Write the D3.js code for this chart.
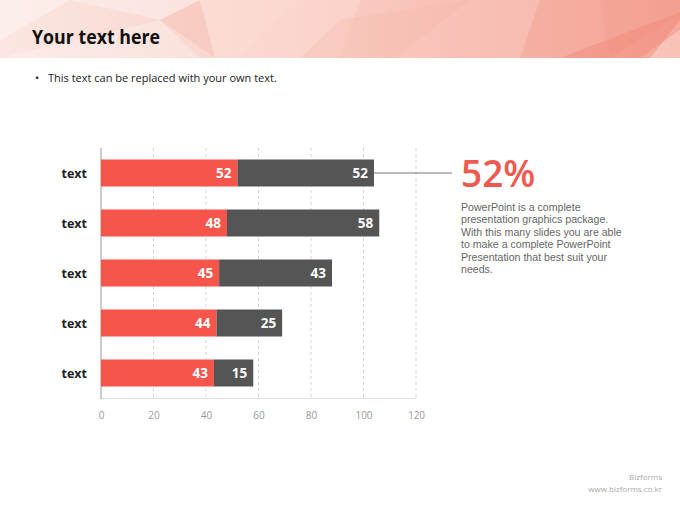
<!DOCTYPE html>
<html>
<head>
<meta charset="utf-8">
<script src="https://cdn.jsdelivr.net/npm/d3@7"></script>
<style>
html,body{margin:0;padding:0;background:#fff;}
svg{display:block;font-family:"Open Sans","Noto Sans",sans-serif;}
</style>
</head>
<body>
<svg id="c" width="680" height="510"></svg>
<script>
const categories = ["text","text","text","text","text"];
const seriesA = [52,48,45,44,43];
const seriesB = [52,58,43,25,15];
const xTicks = [0,20,40,60,80,100,120];
const bigValue = "52%";
const paragraph = ["PowerPoint is a complete","presentation graphics package.","With this many slides you are able","to make a complete PowerPoint","Presentation that best suit your","needs."];

const svg = d3.select("#c");
const defs = svg.append("defs");
const g1 = defs.append("linearGradient").attr("id","hdr").attr("x1","0").attr("x2","1").attr("y1","0").attr("y2","0");
g1.append("stop").attr("offset","0").attr("stop-color","#fbe6e1");
g1.append("stop").attr("offset","0.45").attr("stop-color","#f9d0c7");
g1.append("stop").attr("offset","1").attr("stop-color","#f5a597");

// header
const H = 58;
svg.append("rect").attr("x",0).attr("y",0).attr("width",680).attr("height",H).attr("fill","url(#hdr)");
const polys = [
  {p:[[0,0],[70,0],[0,40]], c:"#fff", o:0.35},
  {p:[[0,58],[160,20],[200,58]], c:"#fff", o:0.25},
  {p:[[70,0],[200,0],[160,20]], c:"#fff", o:0.3},
  {p:[[160,20],[200,0],[215,58]], c:"#f4b4a8", o:0.35},
  {p:[[200,0],[300,0],[240,58],[215,58]], c:"#fbe0da", o:0.5},
  {p:[[300,0],[360,0],[340,58],[240,58]], c:"#fcdcd5", o:0.45},
  {p:[[340,20],[470,0],[395,58],[300,58]], c:"#f7b9ad", o:0.35},
  {p:[[470,0],[540,0],[520,58],[395,58]], c:"#f9c6bc", o:0.4},
  {p:[[540,0],[600,0],[610,58],[520,58]], c:"#f4a496", o:0.35},
  {p:[[600,0],[680,0],[680,15],[610,58]], c:"#f29686", o:0.35},
  {p:[[650,58],[680,20],[680,58]], c:"#fbd5cd", o:0.6},
  {p:[[560,58],[680,12],[680,30],[640,58]], c:"#f07f6f", o:0.35}
];
svg.append("g").selectAll("polygon").data(polys).join("polygon")
  .attr("points",d=>d.p.map(q=>q.join(",")).join(" "))
  .attr("fill",d=>d.c).attr("opacity",d=>d.o);

svg.append("text").attr("x",32).attr("y",44).attr("font-size",20).attr("font-weight","bold")
  .attr("textLength",128).attr("lengthAdjust","spacingAndGlyphs")
  .attr("fill","#111").text("Your text here");

svg.append("text").attr("x",35).attr("y",82).attr("font-size",11).attr("fill","#222").text("•");
svg.append("text").attr("x",48).attr("y",82).attr("font-size",11).attr("fill","#222").text("This text can be replaced with your own text.");

// chart
const x = d3.scaleLinear().domain([0,120]).range([101,416]);
const y = d3.scaleBand().domain(d3.range(categories.length)).range([148,398]).paddingInner(0.46).paddingOuter(0.23);

const gridG = svg.append("g");
gridG.selectAll("line").data(xTicks.filter(t=>t>0)).join("line")
  .attr("x1",d=>x(d)).attr("x2",d=>x(d)).attr("y1",148).attr("y2",398)
  .attr("stroke","#d4d4d4").attr("stroke-dasharray","3,3").attr("stroke-width",1);

svg.append("line").attr("x1",101).attr("x2",416).attr("y1",398.5).attr("y2",398.5).attr("stroke","#e0e0e0");

const xAxis = d3.axisBottom(x).tickValues(xTicks).tickSize(0).tickPadding(10);
const ax = svg.append("g").attr("transform","translate(0,402)").call(xAxis);
ax.select(".domain").remove();
ax.selectAll("text").attr("font-size",10).attr("fill","#999").attr("font-family","'Open Sans','Noto Sans',sans-serif");

svg.append("line").attr("x1",101).attr("x2",101).attr("y1",148).attr("y2",399).attr("stroke","#aaa").attr("stroke-width",1.2);

const rows = svg.append("g").selectAll("g").data(categories.map((c,i)=>({c,a:seriesA[i],b:seriesB[i],i}))).join("g");
rows.append("rect").attr("x",x(0)).attr("y",d=>y(d.i)).attr("width",d=>x(d.a)-x(0)).attr("height",y.bandwidth()).attr("fill","#f5554b");
rows.append("rect").attr("x",d=>x(d.a)).attr("y",d=>y(d.i)).attr("width",d=>x(d.a+d.b)-x(d.a)).attr("height",y.bandwidth()).attr("fill","#555555");
rows.append("text").attr("x",d=>x(d.a)-6).attr("y",d=>y(d.i)+y.bandwidth()/2).attr("dy","0.36em")
  .attr("text-anchor","end").attr("font-size",13.5).attr("font-weight","bold").attr("fill","#fff").text(d=>d.a);
rows.append("text").attr("x",d=>x(d.a+d.b)-6).attr("y",d=>y(d.i)+y.bandwidth()/2).attr("dy","0.36em")
  .attr("text-anchor","end").attr("font-size",13.5).attr("font-weight","bold").attr("fill","#fff").text(d=>d.b);
rows.append("text").attr("x",87).attr("y",d=>y(d.i)+y.bandwidth()/2).attr("dy","0.36em")
  .attr("text-anchor","end").attr("font-size",12.5).attr("font-weight","bold").attr("fill","#222").text(d=>d.c);

// callout
const y0 = y(0)+y.bandwidth()/2;
svg.append("line").attr("x1",x(seriesA[0]+seriesB[0])).attr("x2",452).attr("y1",y0).attr("y2",y0).attr("stroke","#777").attr("stroke-width",1);
svg.append("text").attr("x",461).attr("y",187).attr("font-size",37).attr("font-weight","600").attr("fill","#ee5a50").text(bigValue);
svg.append("g").selectAll("text").data(paragraph).join("text")
  .attr("x",461).attr("y",(d,i)=>211+i*12.4)
  .attr("font-family","'Liberation Sans',Arial,sans-serif").attr("font-size",10.6).attr("fill","#666").text(d=>d);

// footer
svg.append("text").attr("x",662).attr("y",480).attr("text-anchor","end").attr("font-size",8).attr("fill","#aaa").text("Bizforms");
svg.append("text").attr("x",662).attr("y",492).attr("text-anchor","end").attr("font-size",8).attr("fill","#aaa").text("www.bizforms.co.kr");
</script>
</body>
</html>
